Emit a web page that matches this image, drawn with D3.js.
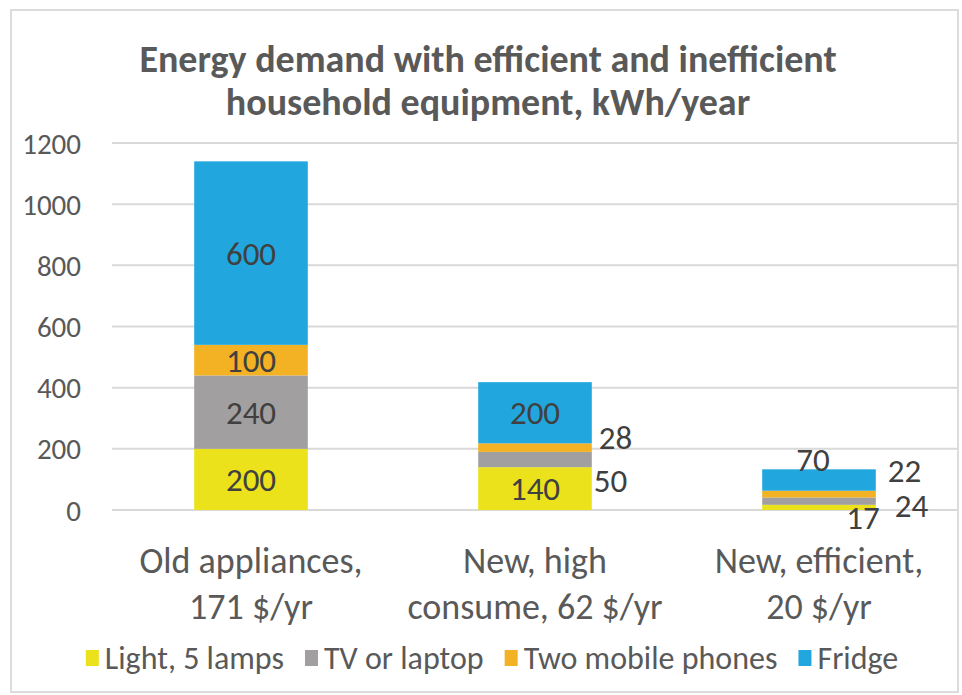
<!DOCTYPE html>
<html>
<head>
<meta charset="utf-8">
<script src="https://cdn.jsdelivr.net/npm/d3@7"></script>
<style>
  html, body { margin: 0; padding: 0; background: #ffffff; }
  svg { display: block; }
  text { font-family: Carlito, Calibri, Lato, "Open Sans", sans-serif; }
</style>
</head>
<body>
<svg id="chart" width="962" height="695"></svg>
<script>
// Categories (two-line axis labels)
const categories = ["Old appliances, 171 $/yr", "New, high consume, 62 $/yr", "New, efficient, 20 $/yr"];
const categoryLines = [["Old appliances,", "171 $/yr"], ["New, high", "consume, 62 $/yr"], ["New, efficient,", "20 $/yr"]];

// Series, bottom to top of each stack
const seriesNames = ["Light, 5 lamps", "TV or laptop", "Two mobile phones", "Fridge"];
const lightValues  = [200, 140, 17];
const tvValues     = [240, 50, 24];
const phoneValues  = [100, 28, 22];
const fridgeValues = [600, 200, 70];

const yTicks = [0, 200, 400, 600, 800, 1000, 1200];
const titleLines = ["Energy demand with efficient and inefficient", "household equipment, kWh/year"];

const colors = ["#ebe21b", "#a19f9f", "#f3b124", "#21a7de"];

// Label placement: "in" = centred in segment, otherwise offset from the segment
const labelPlacement = {
  "0-0": {mode: "in"}, "0-1": {mode: "in"}, "0-2": {mode: "in"}, "0-3": {mode: "in"},
  "1-0": {mode: "in"}, "1-1": {mode: "right", dx: 2, dy: 21}, "1-2": {mode: "right", dx: 7, dy: -10}, "1-3": {mode: "in"},
  "2-0": {mode: "offset", dx: 44, dy: 10}, "2-1": {mode: "right", dx: 19, dy: 4}, "2-2": {mode: "right", dx: 12, dy: -24}, "2-3": {mode: "offset", dx: -6, dy: -21}
};

const svg = d3.select("#chart");

// Outer frame
svg.append("rect")
  .attr("x", 11).attr("y", 10).attr("width", 947).attr("height", 682)
  .attr("fill", "#ffffff").attr("stroke", "#dcdcdc").attr("stroke-width", 2);

const x = d3.scaleBand().domain(categories).range([109, 961]).paddingInner(0.6).paddingOuter(0.3);
const y = d3.scaleLinear().domain([0, 1200]).range([510, 143]);

// Gridlines
svg.append("g").selectAll("line").data(yTicks).join("line")
  .attr("x1", 112).attr("x2", 957)
  .attr("y1", d => y(d)).attr("y2", d => y(d))
  .attr("stroke", "#d9d9d9").attr("stroke-width", 2);

// Y axis labels
const yAxis = d3.axisLeft(y).tickValues(yTicks).tickFormat(d3.format("d")).tickSize(0).tickPadding(0);
const gy = svg.append("g").attr("transform", "translate(81,0)").call(yAxis);
gy.select(".domain").remove();
gy.selectAll("text")
  .attr("fill", "#595959").attr("font-size", 29).attr("dy", "0.35em")
  .style("font-family", "Carlito, Calibri, Lato, sans-serif");

// Stack the data
const rows = categories.map((c, i) => ({
  cat: c, s0: lightValues[i], s1: tvValues[i], s2: phoneValues[i], s3: fridgeValues[i]
}));
const stack = d3.stack().keys(["s0", "s1", "s2", "s3"]);
const layers = stack(rows);

const bars = svg.append("g");
layers.forEach((layer, si) => {
  bars.append("g").attr("fill", colors[si])
    .selectAll("rect").data(layer).join("rect")
    .attr("x", d => x(d.data.cat))
    .attr("width", x.bandwidth())
    .attr("y", d => y(d[1]))
    .attr("height", d => y(d[0]) - y(d[1]));
});

// Data labels
const labels = svg.append("g").attr("fill", "#404040").attr("font-size", 33);
layers.forEach((layer, si) => {
  layer.forEach((d, ci) => {
    const p = labelPlacement[ci + "-" + si];
    const value = d[1] - d[0];
    const cx = x(d.data.cat) + x.bandwidth() / 2;
    const cy = (y(d[0]) + y(d[1])) / 2;
    let tx = cx, ty = cy, anchor = "middle";
    if (p.mode === "right") {
      tx = x(d.data.cat) + x.bandwidth() + p.dx; ty = cy + p.dy; anchor = "start";
    } else if (p.mode === "offset") {
      tx = cx + p.dx; ty = cy + p.dy;
    }
    labels.append("text")
      .attr("x", tx).attr("y", ty).attr("dy", "0.35em")
      .attr("text-anchor", anchor)
      .text(value);
  });
});

// Category labels
const xl = svg.append("g").attr("fill", "#595959").attr("font-size", 36).attr("text-anchor", "middle");
categories.forEach((c, i) => {
  const cx = x(c) + x.bandwidth() / 2;
  categoryLines[i].forEach((line, li) => {
    xl.append("text").attr("x", cx).attr("y", 573 + li * 46).text(line);
  });
});

// Title
const title = svg.append("g").attr("fill", "#595959").attr("font-size", 38)
  .attr("font-weight", 700).attr("text-anchor", "middle");
titleLines.forEach((t, i) => {
  title.append("text").attr("x", 488).attr("y", 72 + i * 43).text(t);
});

// Legend
const legend = svg.append("g").attr("font-size", 32).attr("fill", "#595959");
let lx = 0;
const legendGap = 21;
seriesNames.forEach((name, i) => {
  const g = legend.append("g").attr("transform", `translate(${lx},0)`);
  g.append("rect").attr("x", 0).attr("y", -8).attr("width", 13).attr("height", 16).attr("fill", colors[i]);
  const t = g.append("text").attr("x", 19).attr("dy", "0.35em").text(name);
  lx += 19 + t.node().getComputedTextLength() + legendGap;
});
const legendWidth = lx - legendGap;
legend.attr("transform", `translate(${492 - legendWidth / 2},658)`);
</script>
</body>
</html>
